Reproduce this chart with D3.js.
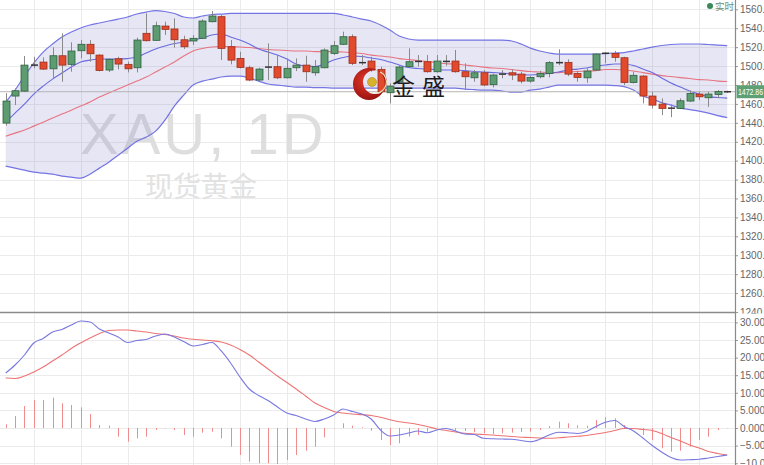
<!DOCTYPE html>
<html><head><meta charset="utf-8">
<script src="https://cdn.jsdelivr.net/npm/d3@7/dist/d3.min.js"></script>
<style>html,body{margin:0;padding:0;background:#fff;overflow:hidden}svg{display:block}</style>
</head><body><svg id="c" width="764" height="465"></svg>
<script>
// ---- DATA ----
const opens  = [1439.7,1468.3,1473.5,1500.8,1504.2,1497.1,1510.9,1501.8,1516.2,1523.0,1511.6,1495.8,1507.7,1501.8,1498.2,1534.6,1527.2,1542.3,1539.2,1527.8,1526.5,1529.3,1546.9,1552.2,1520.4,1508.1,1498.2,1485.2,1498.6,1499.3,1487.6,1498.2,1501.0,1492.9,1498.2,1513.4,1523.0,1531.0,1503.9,1505.3,1496.5,1471.8,1483.3,1499.3,1504.6,1504.6,1494.0,1504.6,1505.3,1494.0,1487.6,1492.9,1480.3,1491.2,1492.9,1491.5,1484.1,1488.7,1492.2,1504.0,1503.9,1492.2,1487.6,1495.8,1513.0,1513.4,1508.8,1482.7,1489.4,1468.3,1459.8,1456.0,1455.2,1463.0,1470.4,1466.5,1470.0,1472.5];
const highs  = [1471.4,1476.4,1510.6,1509.8,1509.2,1519.8,1534.6,1525.1,1527.5,1527.5,1512.4,1508.1,1509.8,1504.6,1530.0,1555.7,1546.9,1546.9,1550.5,1532.1,1532.8,1549.4,1558.2,1554.0,1527.5,1515.1,1500.3,1498.2,1524.0,1511.6,1508.1,1508.1,1510.9,1506.3,1518.7,1526.5,1536.3,1533.5,1511.6,1509.8,1499.3,1481.7,1501.0,1518.7,1511.6,1511.6,1511.6,1511.6,1517.0,1502.9,1495.8,1495.8,1491.5,1495.8,1496.5,1494.0,1489.4,1495.0,1505.3,1517.7,1507.1,1495.0,1497.6,1513.4,1514.5,1515.9,1509.8,1494.0,1490.5,1472.8,1465.8,1459.5,1465.8,1474.0,1472.8,1472.8,1474.6,1474.0];
const lows   = [1437.0,1458.7,1472.8,1497.6,1495.8,1487.6,1483.4,1494.0,1508.1,1504.6,1494.4,1493.6,1496.5,1493.3,1493.3,1526.0,1526.5,1532.8,1519.4,1518.0,1522.2,1528.6,1546.2,1506.3,1501.8,1497.6,1484.1,1484.1,1485.2,1486.2,1487.0,1494.7,1483.4,1489.7,1497.6,1511.6,1522.2,1501.0,1501.0,1494.0,1471.8,1460.5,1481.7,1498.6,1499.3,1493.0,1493.0,1500.3,1493.0,1474.6,1483.4,1478.8,1477.4,1487.0,1485.2,1481.7,1482.3,1487.0,1488.0,1501.0,1489.4,1483.4,1482.3,1495.1,1502.9,1504.6,1479.9,1481.7,1460.5,1455.2,1448.1,1446.0,1454.5,1462.0,1464.0,1456.9,1466.0,1471.5];
const closes = [1463.0,1473.9,1501.0,1501.0,1496.8,1510.9,1501.0,1515.9,1523.0,1513.0,1495.4,1507.1,1502.1,1497.1,1527.5,1526.8,1542.6,1538.8,1527.8,1520.4,1529.3,1547.6,1552.9,1518.7,1506.3,1498.6,1485.2,1496.8,1498.9,1487.6,1497.6,1501.0,1494.0,1499.3,1516.9,1521.5,1531.0,1502.9,1503.6,1495.8,1472.8,1478.8,1499.0,1504.6,1504.9,1494.0,1505.3,1504.9,1494.0,1488.7,1492.9,1480.0,1490.5,1491.5,1490.5,1484.1,1488.0,1492.2,1503.6,1503.6,1491.5,1488.0,1494.7,1512.7,1513.5,1509.2,1482.7,1490.2,1468.3,1458.7,1455.2,1455.5,1463.3,1471.0,1467.5,1470.4,1473.0,1472.86];
const bollUpper = [1461.9,1474.6,1489.4,1503.2,1514.8,1523.3,1530.7,1536.0,1540.2,1543.4,1545.5,1547.6,1549.7,1551.9,1555.0,1557.1,1558.7,1557.7,1555.6,1551.9,1550.8,1552.9,1554.5,1555.0,1555.6,1555.6,1555.6,1555.6,1555.6,1555.6,1555.6,1555.6,1555.6,1555.6,1555.6,1555.6,1554.0,1551.9,1549.7,1547.6,1543.4,1538.1,1531.7,1528.6,1527.5,1527.5,1527.5,1527.5,1527.5,1527.5,1527.5,1527.5,1527.5,1527.5,1526.5,1523.3,1519.0,1515.9,1513.8,1512.7,1512.7,1512.7,1512.7,1512.7,1513.2,1513.8,1514.3,1515.9,1518.0,1520.1,1521.7,1522.8,1523.3,1523.3,1523.3,1522.8,1522.2,1521.7];
const bollMid = [1425.9,1429.1,1432.3,1436.5,1440.7,1445.0,1449.2,1453.4,1457.7,1461.9,1467.2,1471.4,1475.7,1479.9,1484.1,1488.4,1493.7,1498.9,1504.2,1510.6,1515.9,1518.5,1520.1,1520.6,1520.6,1520.1,1519.6,1518.5,1517.5,1516.9,1516.4,1515.9,1515.9,1515.3,1515.3,1515.3,1514.8,1514.3,1513.2,1511.6,1510.6,1509.5,1507.9,1506.9,1505.8,1504.8,1503.7,1502.6,1502.1,1501.1,1500.0,1498.9,1497.9,1497.4,1496.3,1495.2,1494.2,1493.7,1493.1,1493.1,1493.7,1494.2,1494.7,1495.2,1496.3,1496.3,1495.8,1494.7,1493.1,1491.5,1489.9,1488.9,1487.8,1486.8,1485.7,1485.2,1484.1,1483.6];
const bollLower = [1394.2,1392.1,1389.9,1387.8,1386.8,1385.7,1383.6,1382.5,1381.5,1385.7,1392.1,1398.4,1405.8,1413.2,1420.6,1424.9,1431.2,1442.9,1457.7,1469.3,1479.9,1484.1,1486.2,1488.4,1489.4,1489.4,1487.3,1484.1,1481.0,1479.9,1478.8,1477.8,1477.8,1477.2,1477.2,1476.7,1476.7,1476.7,1476.7,1476.7,1476.7,1476.7,1476.7,1476.7,1476.7,1476.7,1476.7,1476.7,1476.7,1475.7,1475.1,1474.6,1474.6,1473.5,1472.5,1472.5,1474.6,1475.7,1477.8,1479.9,1479.9,1479.9,1479.9,1479.9,1479.9,1479.4,1478.3,1474.6,1468.3,1465.1,1461.4,1458.7,1455.6,1454.0,1452.4,1450.3,1447.6,1445.5];
const maShort = [1440.7,1450.3,1459.8,1470.4,1478.8,1486.2,1492.6,1498.9,1504.2,1506.3,1507.4,1507.4,1507.4,1507.9,1509.5,1513.8,1518.0,1521.2,1523.8,1525.4,1527.5,1529.6,1532.8,1533.9,1530.7,1527.5,1523.3,1518.0,1514.8,1511.6,1507.4,1502.1,1500.0,1499.5,1502.1,1506.3,1509.0,1510.6,1510.1,1508.5,1506.9,1504.2,1501.1,1498.4,1497.4,1496.8,1496.3,1495.8,1495.8,1495.2,1494.2,1493.7,1493.1,1492.6,1491.5,1491.0,1490.5,1491.0,1492.1,1493.7,1495.8,1496.8,1497.9,1500.0,1501.1,1502.1,1502.1,1500.5,1496.8,1493.1,1487.3,1482.0,1477.8,1473.5,1470.4,1467.7,1466.7,1466.1];
const macdDif = [15.63,17.90,20.74,24.15,25.43,27.27,27.98,29.26,30.40,30.11,28.13,26.99,25.85,24.29,24.86,25.14,26.14,26.70,25.85,24.57,23.30,23.72,24.29,21.88,18.47,14.49,11.08,9.23,7.81,5.97,4.26,3.55,2.56,1.85,2.56,3.69,5.40,4.69,3.98,2.56,-0.57,-2.27,-1.99,-1.42,-0.85,-1.34,-0.57,-0.14,-0.85,-1.70,-1.85,-2.93,-3.07,-3.13,-3.21,-3.55,-3.89,-3.21,-1.99,-1.22,-1.34,-1.56,-0.99,0.43,1.62,2.13,0.43,-0.85,-2.84,-4.97,-6.82,-8.38,-9.09,-9.01,-8.89,-8.52,-8.10,-7.67];
const macdDea = [14.20,14.06,14.77,15.91,17.33,19.03,20.74,22.59,24.15,25.57,26.85,27.70,27.84,27.84,27.56,27.27,26.85,26.56,26.14,25.57,25.20,25.00,24.80,24.43,23.58,22.30,20.74,18.75,16.76,14.77,12.93,11.08,9.09,7.10,5.82,4.69,4.26,3.98,3.78,3.55,3.04,2.36,1.79,1.42,0.99,0.43,-0.28,-0.71,-1.14,-1.51,-1.70,-1.85,-1.99,-2.22,-2.41,-2.61,-2.70,-2.84,-2.93,-2.78,-2.56,-2.36,-2.13,-1.70,-1.28,-0.71,-0.14,-0.14,-0.43,-0.71,-1.56,-2.70,-3.69,-4.83,-5.68,-6.68,-7.24,-7.67];
const macdHist = [1.05,3.41,6.25,7.95,7.95,8.61,7.02,6.53,5.88,3.98,0.85,0.71,-2.47,-3.89,-2.93,-2.47,-0.57,-0.14,-0.57,-1.99,-2.47,-1.34,-1.05,-2.93,-5.31,-7.67,-9.57,-10.03,-10.03,-10.23,-9.09,-7.67,-6.45,-5.31,-2.64,-0.09,1.34,0.65,0.20,-0.77,-3.41,-4.83,-4.35,-2.47,-1.99,-1.05,0.14,0.06,-0.77,-0.85,-1.22,-1.51,-1.70,-1.51,-1.34,-1.14,-1.05,-0.57,0.57,1.79,1.34,0.77,0.65,2.27,3.04,2.76,0.85,-0.09,-1.99,-3.41,-5.77,-6.73,-6.45,-5.31,-3.41,-2.47,-0.57,-0.09];
const weekStarts = [3,8,13,20,25,30,35,41,46,51,56,64,69,74];
const priceTicks = [1240,1260,1280,1300,1320,1340,1360,1380,1400,1420,1440,1460,1480,1500,1520,1540,1560];
const macdTicks = [-10,-5,0,5,10,15,20,25,30];
const lastPrice = 1472.86;
const symbolText = "XAU, 1D";
const nameText = "现货黄金";
const brandText = ["金","盛"];
const liveText = "实时";

// ---- CHART ----
const svg = d3.select("#c");
const W = 764, H = 465, AX = 735, SEP = 312.5;
const x = d3.scaleLinear().domain([0, 77]).range([5.7, 727.2]);
const yP = d3.scaleLinear().domain([1240, 1560]).range([312, 9.3]);
const yM = d3.scaleLinear().domain([-10, 30]).range([463.2, 322.4]);
const idx = d3.range(closes.length);

svg.append("rect").attr("width", W).attr("height", H).attr("fill", "#fff");

// grid
const grid = svg.append("g").attr("stroke", "#ebebeb").attr("stroke-width", 1).attr("shape-rendering", "crispEdges");
priceTicks.forEach(t => grid.append("line").attr("x1", 0).attr("x2", AX).attr("y1", Math.round(yP(t)) + 0.5).attr("y2", Math.round(yP(t)) + 0.5));
weekStarts.forEach(i => grid.append("line").attr("x1", Math.round(x(i)) + 0.5).attr("x2", Math.round(x(i)) + 0.5).attr("y1", 0).attr("y2", H));

// watermark
svg.append("text").attr("x", 80).attr("y", 154).attr("font-family", "Liberation Sans, Arial, sans-serif")
  .attr("font-size", 58).attr("letter-spacing", 3).attr("fill", "#dedede").text(symbolText);
svg.append("text").attr("x", 145).attr("y", 197).attr("font-family", "Noto Sans CJK SC, sans-serif")
  .attr("font-size", 28).attr("fill", "#e2e2e2").text(nameText);

// price panel clip
svg.append("clipPath").attr("id", "pclip").append("rect").attr("x", 0).attr("y", 0).attr("width", AX).attr("height", SEP);
const pg = svg.append("g").attr("clip-path", "url(#pclip)");

// bollinger fill
pg.append("path").datum(idx)
  .attr("d", d3.area().x(i => x(i)).y0(i => yP(bollLower[i])).y1(i => yP(bollUpper[i])).curve(d3.curveMonotoneX))
  .attr("fill", "rgba(120,120,200,0.19)");

const line = arr => d3.line().x(i => x(i)).y(i => yP(arr[i])).curve(d3.curveMonotoneX)(idx);
pg.append("path").attr("d", line(bollUpper)).attr("fill", "none").attr("stroke", "#7474e4").attr("stroke-width", 1.2);
pg.append("path").attr("d", line(bollLower)).attr("fill", "none").attr("stroke", "#7474e4").attr("stroke-width", 1.2);
pg.append("path").attr("d", line(bollMid)).attr("fill", "none").attr("stroke", "#e87480").attr("stroke-width", 1.1);
pg.append("path").attr("d", line(maShort)).attr("fill", "none").attr("stroke", "#6a6ade").attr("stroke-width", 1.1);

// last price line
pg.append("line").attr("x1", 0).attr("x2", AX).attr("y1", yP(lastPrice)).attr("y2", yP(lastPrice))
  .attr("stroke", "#b5b5b5").attr("stroke-width", 1);

// candles
const cg = pg.append("g");
idx.forEach(i => {
  const o = opens[i], c = closes[i], h = highs[i], l = lows[i];
  const cx = Math.round(x(i)) + 0.5;
  cg.append("line").attr("x1", cx).attr("x2", cx).attr("y1", yP(h)).attr("y2", yP(l)).attr("stroke", "#8a8a8a").attr("stroke-width", 1);
  if (Math.abs(c - o) < 0.8) {
    cg.append("line").attr("x1", cx - 3.5).attr("x2", cx + 3.5).attr("y1", yP(c)).attr("y2", yP(c)).attr("stroke", "#333").attr("stroke-width", 1.5);
  } else {
    const up = c > o;
    const top = yP(Math.max(o, c)), bot = yP(Math.min(o, c));
    cg.append("rect").attr("x", cx - 3.5).attr("y", top).attr("width", 7).attr("height", Math.max(1, bot - top))
      .attr("fill", up ? "#5c9c70" : "#e24a2e").attr("stroke", up ? "#2f5f3e" : "#9a2e1a").attr("stroke-width", 0.8);
  }
});

// logo
const lg = svg.append("g");
const defs = svg.append("defs");
const rg = defs.append("radialGradient").attr("id", "lred").attr("cx", "40%").attr("cy", "40%").attr("r", "70%");
rg.append("stop").attr("offset", "0%").attr("stop-color", "#e53a2a");
rg.append("stop").attr("offset", "100%").attr("stop-color", "#8e0c0c");
const cxL = 369, cyL = 84, R = 16, r2 = 12, ox = 6, oy = -2;
const crescent = `M${cxL - R},${cyL} a${R},${R} 0 1,0 ${2 * R},0 a${R},${R} 0 1,0 ${-2 * R},0 Z ` +
  `M${cxL + ox - r2},${cyL + oy} a${r2},${r2} 0 1,0 ${2 * r2},0 a${r2},${r2} 0 1,0 ${-2 * r2},0 Z`;
lg.append("path").attr("d", crescent).attr("fill", "url(#lred)").attr("fill-rule", "evenodd");
lg.append("path").attr("d", d3.arc()({innerRadius: r2 - 1.2, outerRadius: r2, startAngle: Math.PI * 0.15, endAngle: Math.PI * 1.0}))
  .attr("transform", `translate(${cxL + ox},${cyL + oy})`).attr("fill", "#f3dfb0");
lg.append("circle").attr("cx", 372).attr("cy", 82).attr("r", 4.5).attr("fill", "#d8b22a").attr("stroke", "#a98a16").attr("stroke-width", 0.6);
lg.append("text").attr("x", 392).attr("y", 95).attr("font-family", "Noto Sans CJK SC, sans-serif").attr("font-size", 23).attr("fill", "#1c1c1c").text(brandText[0]);
lg.append("text").attr("x", 422).attr("y", 95).attr("font-family", "Noto Sans CJK SC, sans-serif").attr("font-size", 23).attr("fill", "#1c1c1c").text(brandText[1]);

// price axis
const axP = svg.append("g").attr("transform", `translate(${AX},0)`)
  .call(d3.axisRight(yP).tickValues(priceTicks).tickFormat(d3.format(".2f")).tickSize(3).tickPadding(2));
axP.select(".domain").remove();
axP.selectAll("line").attr("stroke", "#999");
axP.selectAll("text").attr("font-family", "Liberation Sans, Arial, sans-serif").attr("font-size", 10).attr("fill", "#666");

// lower panel
svg.append("rect").attr("x", 0).attr("y", SEP + 1).attr("width", W).attr("height", H - SEP - 1).attr("fill", "#fff");
const grid2 = svg.append("g").attr("stroke", "#ebebeb").attr("stroke-width", 1).attr("shape-rendering", "crispEdges");
macdTicks.forEach(t => grid2.append("line").attr("x1", 0).attr("x2", AX).attr("y1", Math.round(yM(t)) + 0.5).attr("y2", Math.round(yM(t)) + 0.5));
weekStarts.forEach(i => grid2.append("line").attr("x1", Math.round(x(i)) + 0.5).attr("x2", Math.round(x(i)) + 0.5).attr("y1", SEP + 1).attr("y2", H));

const mg = svg.append("g");
idx.forEach(i => {
  const cx = Math.round(x(i)) + 0.5;
  mg.append("line").attr("x1", cx).attr("x2", cx).attr("y1", yM(0)).attr("y2", yM(macdHist[i]))
    .attr("stroke", "#f08c8c").attr("stroke-width", 1);
});
const mline = arr => d3.line().x(i => x(i)).y(i => yM(arr[i])).curve(d3.curveMonotoneX)(idx);
mg.append("path").attr("d", mline(macdDea)).attr("fill", "none").attr("stroke", "#ee7474").attr("stroke-width", 1.1);
mg.append("path").attr("d", mline(macdDif)).attr("fill", "none").attr("stroke", "#7878e0").attr("stroke-width", 1.1);

const axM = svg.append("g").attr("transform", `translate(${AX},0)`)
  .call(d3.axisRight(yM).tickValues(macdTicks).tickFormat(d3.format(".4f")).tickSize(3).tickPadding(2));
axM.select(".domain").remove();
axM.selectAll("line").attr("stroke", "#999");
axM.selectAll("text").attr("font-family", "Liberation Sans, Arial, sans-serif").attr("font-size", 10).attr("fill", "#666");

// separator & axis line
svg.append("line").attr("x1", 0).attr("x2", AX).attr("y1", SEP).attr("y2", SEP).attr("stroke", "#8a8a8a").attr("stroke-width", 1.5);
svg.append("line").attr("x1", AX + 0.5).attr("x2", AX + 0.5).attr("y1", 0).attr("y2", H).attr("stroke", "#8a8a8a").attr("stroke-width", 1.2);

// last price tag
const ly = yP(lastPrice);
svg.append("rect").attr("x", AX + 1.5).attr("y", ly - 6.5).attr("width", W - AX).attr("height", 13).attr("fill", "#5f9f74");
svg.append("text").attr("x", AX + 3).attr("y", ly + 3.5).attr("font-family", "Liberation Sans, Arial, sans-serif")
  .attr("font-size", 9.5).attr("textLength", 25).attr("lengthAdjust", "spacingAndGlyphs")
  .attr("fill", "#fff").text(d3.format(".2f")(lastPrice));

// live legend
svg.append("circle").attr("cx", 710).attr("cy", 6).attr("r", 3).attr("fill", "#3a8a5c");
svg.append("text").attr("x", 715).attr("y", 10).attr("font-family", "Noto Sans CJK SC, sans-serif")
  .attr("font-size", 9.5).attr("fill", "#6a8f76").text(liveText);
</script></body></html>
